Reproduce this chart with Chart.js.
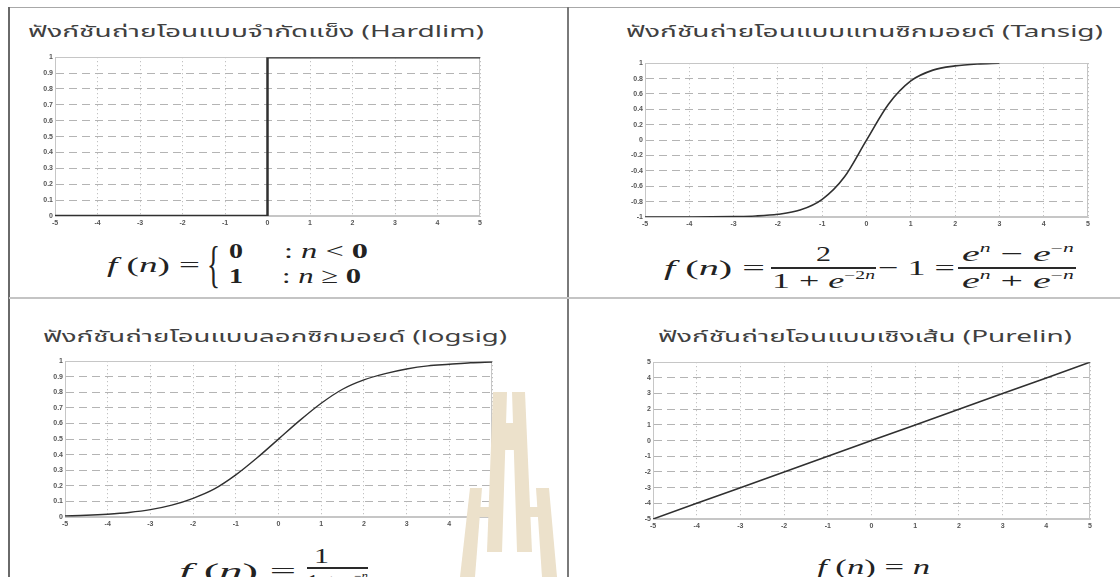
<!DOCTYPE html>
<html><head><meta charset="utf-8">
<script src="https://cdn.jsdelivr.net/npm/chart.js@4.4.1/dist/chart.umd.min.js"></script>
<style>
html,body{margin:0;padding:0;background:#fff;}
body{width:1120px;height:577px;overflow:hidden;position:relative;}
.ln{position:absolute;}
.cbox{position:absolute;}
.cbox canvas{display:block;}
.t{position:absolute;white-space:nowrap;font-family:"Noto Sans Thai","Noto Sans Thai UI","Loma","Garuda","Tlwg Typo","DejaVu Sans",sans-serif;font-size:16px;color:#404040;transform-origin:0 50%;line-height:1.2;}
.m{position:absolute;white-space:nowrap;font-family:"Liberation Serif","Times New Roman",serif;font-size:22px;color:#222;transform-origin:0 50%;line-height:1;}
.m i{font-style:italic;}
.m sup{font-size:12px;vertical-align:9px;line-height:0;}
.bar{position:absolute;height:1.5px;background:#2a2a2a;}
svg{position:absolute;left:0;top:0;pointer-events:none;}
</style></head>
<body>
<!-- frame lines -->
<div class="ln" style="left:9px;top:7px;width:1111px;height:1px;background:#a8a8a8"></div>
<div class="ln" style="left:8px;top:7px;width:2px;height:570px;background:#6a6a6a"></div>
<div class="ln" style="left:567px;top:7px;width:2px;height:570px;background:#7a7a7a"></div>
<div class="ln" style="left:9px;top:297px;width:1111px;height:2px;background:#c4c4c4"></div>

<!-- titles -->
<div class="t" data-w="456" style="left:28px;top:33px">ฟังก์ชันถ่ายโอนแบบจำกัดแข็ง (Hardlim)</div>
<div class="t" data-w="477" style="left:626px;top:33px">ฟังก์ชันถ่ายโอนแบบแทนซิกมอยด์ (Tansig)</div>
<div class="t" data-w="464" style="left:43px;top:338px">ฟังก์ชันถ่ายโอนแบบลอกซิกมอยด์ (logsig)</div>
<div class="t" data-w="414" style="left:658px;top:338px">ฟังก์ชันถ่ายโอนแบบเชิงเส้น (Purelin)</div>

<!-- charts -->
<div class="cbox" style="left:31px;top:51px"><canvas id="c1" width="457" height="179" style="width:457px;height:179px"></canvas></div>
<div class="cbox" style="left:621px;top:57px"><canvas id="c2" width="475" height="174" style="width:475px;height:174px"></canvas></div>
<div class="cbox" style="left:41px;top:355px"><canvas id="c3" width="459" height="176" style="width:459px;height:176px"></canvas></div>
<div class="cbox" style="left:629px;top:356px"><canvas id="c4" width="469" height="177" style="width:469px;height:177px"></canvas></div>

<!-- formula 1 -->
<div class="m" data-w="93" style="left:107px;top:265px"><i>f</i> (<i>n</i>) =</div>
<div class="m" data-w="13" style="left:207px;top:264px;font-size:50px;font-weight:normal">{</div>
<div class="m" data-w="14" style="left:229px;top:251px;font-weight:bold">0</div>
<div class="m" data-w="84" style="left:284px;top:251px">: <i>n</i> &lt; <b>0</b></div>
<div class="m" data-w="14" style="left:229px;top:276px;font-weight:bold">1</div>
<div class="m" data-w="79" style="left:282px;top:276px">: <i>n</i> ≥ <b>0</b></div>

<!-- formula 2 -->
<div class="m" data-w="101" style="left:664px;top:268px"><i>f</i> (<i>n</i>) =</div>
<div class="m" data-w="15" style="left:816px;top:254px">2</div>
<div class="bar" style="left:771px;top:267px;width:105px"></div>
<div class="m" data-w="103" style="left:772px;top:281px">1 + <i>e</i><sup>−2<i>n</i></sup></div>
<div class="m" data-w="77" style="left:878px;top:268px">− 1 =</div>
<div class="m" data-w="112" style="left:962px;top:254px"><i>e</i><sup><i>n</i></sup> − <i>e</i><sup>−<i>n</i></sup></div>
<div class="bar" style="left:958px;top:267px;width:118px"></div>
<div class="m" data-w="112" style="left:962px;top:281px"><i>e</i><sup><i>n</i></sup> + <i>e</i><sup>−<i>n</i></sup></div>

<!-- formula 3 -->
<div class="m" data-w="117" style="left:179px;top:571px"><i>f</i> (<i>n</i>) =</div>
<div class="m" data-w="15" style="left:314px;top:556px">1</div>
<div class="bar" style="left:307px;top:567px;width:61px"></div>
<div class="m" data-w="61" style="left:307px;top:582px">1 + <i>e</i><sup>−<i>n</i></sup></div>

<!-- formula 4 -->
<div class="m" data-w="113" style="left:817px;top:567px"><i>f</i> (<i>n</i>) = <i>n</i></div>

<!-- watermark -->
<svg width="1120" height="577" viewBox="0 0 1120 577">
  <g fill="#ece1cb">
    <polygon points="493,392 507,392 502,552 487,552"/>
    <polygon points="512,392 525,392 532,552 517,552"/>
    <rect x="505" y="423" width="9" height="27"/>
    <polygon points="470,488 482,488 475,577 460,577"/>
    <rect x="477" y="507" width="15" height="10"/>
    <polygon points="536,488 549,488 557,577 542,577"/>
    <rect x="527" y="507" width="13" height="10"/>
  </g>
</svg>

<script>
// ---- data ----
const nTicks = [-5, -4, -3, -2, -1, 0, 1, 2, 3, 4, 5];
const nLabels = ['-5', '-4', '-3', '-2', '-1', '0', '1', '2', '3', '4', '5'];

const unitTicks = [0, 0.1, 0.2, 0.3, 0.4, 0.5, 0.6, 0.7, 0.8, 0.9, 1];
const unitLabels = ['0', '0.1', '0.2', '0.3', '0.4', '0.5', '0.6', '0.7', '0.8', '0.9', '1'];

const tansigTicks = [-1, -0.8, -0.6, -0.4, -0.2, 0, 0.2, 0.4, 0.6, 0.8, 1];
const tansigLabels = ['-1', '-0.8', '-0.6', '-0.4', '-0.2', '0', '0.2', '0.4', '0.6', '0.8', '1'];

const hardlimX = [-5, 0, 0, 5];
const hardlimY = [0, 0, 1, 1];

const tansigX = [-5, -4.5, -4, -3.5, -3, -2.5, -2, -1.5, -1, -0.5, 0, 0.5, 1, 1.5, 2, 2.5, 3];
const tansigY = [-1, -1, -1, -0.999, -0.995, -0.987, -0.965, -0.91, -0.77, -0.48, 0, 0.47, 0.77, 0.91, 0.965, 0.99, 1];

const logsigX = [-5, -4.5, -4, -3.5, -3, -2.5, -2, -1.5, -1, -0.5, 0, 0.5, 1, 1.5, 2, 2.5, 3, 3.5, 4, 4.5, 5];
const logsigY = [0.007, 0.011, 0.018, 0.029, 0.047, 0.076, 0.12, 0.18, 0.27, 0.38, 0.5, 0.62, 0.73, 0.82, 0.88, 0.92, 0.95, 0.97, 0.98, 0.99, 0.995];

const purelinX = [-5, -4, -3, -2, -1, 0, 1, 2, 3, 4, 5];
const purelinY = [-5, -4, -3, -2, -1, 0, 1, 2, 3, 4, 5];

const purelinTicks = [-5, -4, -3, -2, -1, 0, 1, 2, 3, 4, 5];
const purelinLabels = ['-5', '-4', '-3', '-2', '-1', '0', '1', '2', '3', '4', '5'];

// ---- layout helpers ----
const YW = 24, XH = 14;
const boxPlugin = {
  id: 'plotBox',
  beforeDatasetsDraw(chart) {
    const a = chart.chartArea, ctx = chart.ctx;
    ctx.save();
    ctx.strokeStyle = '#c6c6c6';
    ctx.lineWidth = 1;
    ctx.setLineDash([]);
    ctx.strokeRect(Math.round(a.left) + 0.5, Math.round(a.top) + 0.5, Math.round(a.right - a.left) - 1, Math.round(a.bottom - a.top) - 1);
    ctx.restore();
  }
};

function makeChart(id, xs, ys, yTicks, yLabels, lw, smooth) {
  const tickFont = {size: 7, family: 'Liberation Sans, Arial, sans-serif', weight: 'bold'};
  new Chart(document.getElementById(id), {
    type: 'line',
    data: {datasets: [{
      data: xs.map((x, i) => ({x: x, y: ys[i]})),
      borderColor: '#303030', borderWidth: lw, pointRadius: 0, fill: false,
      tension: 0, cubicInterpolationMode: smooth ? 'monotone' : 'default'
    }]},
    options: {
      responsive: false, animation: false, devicePixelRatio: 1,
      layout: {padding: {top: 6, right: 8, left: 0, bottom: 0}},
      plugins: {legend: {display: false}, tooltip: {enabled: false}},
      scales: {
        x: {
          type: 'linear', min: nTicks[0], max: nTicks[nTicks.length - 1],
          afterBuildTicks: s => { s.ticks = nTicks.map(v => ({value: v})); },
          afterFit: s => { s.height = XH; },
          ticks: {callback: (v, i) => nLabels[i], font: tickFont, color: '#555', padding: 3, maxRotation: 0, autoSkip: false},
          grid: {color: '#b4b4b4', lineWidth: 1, drawTicks: false, borderDash: [1, 3]},
          border: {color: '#c6c6c6', dash: [1, 3]}
        },
        y: {
          type: 'linear', min: yTicks[0], max: yTicks[yTicks.length - 1],
          afterBuildTicks: s => { s.ticks = yTicks.map(v => ({value: v})); },
          afterFit: s => { s.width = YW; },
          ticks: {callback: (v, i) => yLabels[i], font: tickFont, color: '#555', padding: 2, autoSkip: false},
          grid: {color: '#b4b4b4', lineWidth: 1, drawTicks: false, borderDash: [8, 5]},
          border: {color: '#c6c6c6', dash: [8, 5]}
        }
      }
    },
    plugins: [boxPlugin]
  });
}

makeChart('c1', hardlimX, hardlimY, unitTicks, unitLabels, 2.5, false);
makeChart('c2', tansigX, tansigY, tansigTicks, tansigLabels, 1.6, true);
makeChart('c3', logsigX, logsigY, unitTicks, unitLabels, 1.4, true);
makeChart('c4', purelinX, purelinY, purelinTicks, purelinLabels, 1.6, false);

// fit text widths
document.querySelectorAll('[data-w]').forEach(el => {
  const w = +el.dataset.w;
  const nat = el.getBoundingClientRect().width;
  const s = nat > 0 ? w / nat : 1;
  el.style.transform = 'translateY(-50%) scaleX(' + s + ')';
});
</script>
</body></html>
